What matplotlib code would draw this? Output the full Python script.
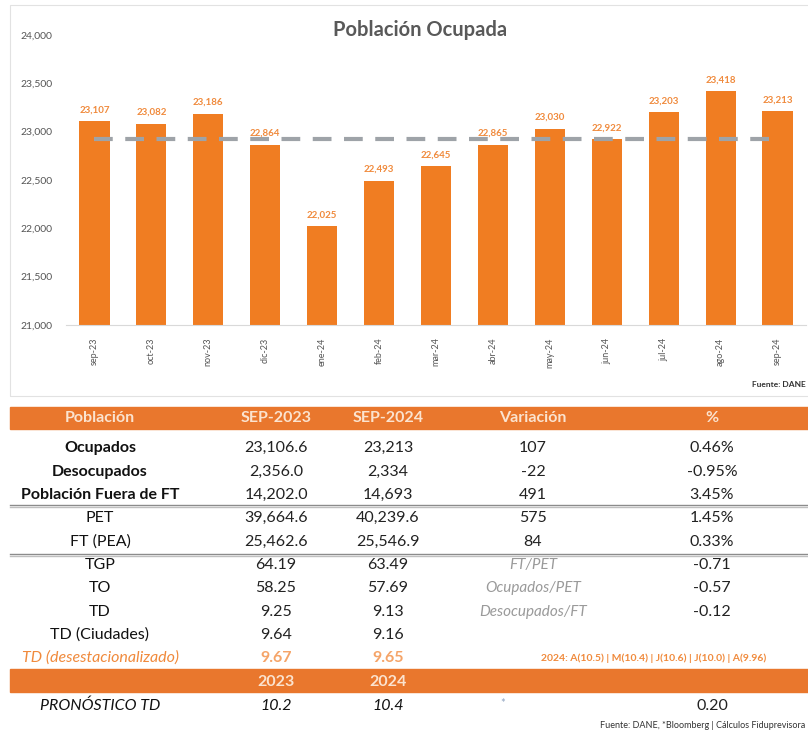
import matplotlib.pyplot as plt
import numpy as np
from matplotlib.patches import Rectangle
from matplotlib.lines import Line2D

plt.rcParams['font.family'] = ['Lato', 'DejaVu Sans']

months = ['sep-23', 'oct-23', 'nov-23', 'dic-23', 'ene-24', 'feb-24', 'mar-24',
          'abr-24', 'may-24', 'jun-24', 'jul-24', 'ago-24', 'sep-24']
ocupados = [23107, 23082, 23186, 22864, 22025, 22493, 22645,
            22865, 23030, 22922, 23203, 23418, 23213]
yticks = [21000, 21500, 22000, 22500, 23000, 23500, 24000]

header = ['Población', 'SEP-2023', 'SEP-2024', 'Variación', '%']
row_labels = ['Ocupados', 'Desocupados', 'Población Fuera de FT', 'PET', 'FT (PEA)',
              'TGP', 'TO', 'TD', 'TD (Ciudades)']
col_2023 = ['23,106.6', '2,356.0', '14,202.0', '39,664.6', '25,462.6',
            '64.19', '58.25', '9.25', '9.64']
col_2024 = ['23,213', '2,334', '14,693', '40,239.6', '25,546.9',
            '63.49', '57.69', '9.13', '9.16']
col_var = ['107', '-22', '491', '575', '84', 'FT/PET', 'Ocupados/PET', 'Desocupados/FT', '']
col_pct = ['0.46%', '-0.95%', '3.45%', '1.45%', '0.33%', '-0.71', '-0.57', '-0.12', '']
desest = ['TD (desestacionalizado)', '9.67', '9.65']
desest_note = '2024: A(10.5) | M(10.4) | J(10.6) | J(10.0) | A(9.96)'
forecast_years = ['2023', '2024']
forecast = ['PRONÓSTICO TD', '10.2', '10.4', '*', '0.20']

orange = '#F07D22'
band = '#E9772D'
W, H = 808, 737
fs = 11.5

fig = plt.figure(figsize=(W / 100, H / 100), dpi=100)


def fx(px):
    return px / W


def fy(py):
    return 1 - py / H


# chart frame
fig.patches.append(Rectangle((fx(10), fy(396)), fx(820), 391 / H, transform=fig.transFigure,
                             fill=False, edgecolor='#E2E2E2', linewidth=0.8))

ax = fig.add_axes([fx(66), fy(325), fx(740), 290 / H])
x = np.arange(len(months))
ax.bar(x, ocupados, width=0.53, color=orange, zorder=2)
ax.plot(x, [np.mean(ocupados)] * len(x), color='#9EA3A8', linewidth=3,
        dashes=(4.5, 3), zorder=3)
for xi, v in zip(x, ocupados):
    ax.text(xi, v + 70, f'{v:,}', ha='center', va='bottom', fontsize=7,
            color='#F08A3C', fontweight='bold')
ax.set_xlim(-0.5, len(months) - 0.5)
ax.set_ylim(21000, 24000)
ax.set_yticks(yticks)
ax.set_yticklabels([f'{t:,}' for t in yticks], fontsize=7.5, color='#555555')
ax.set_xticks(x)
ax.set_xticklabels(months, rotation=90, fontsize=6.5, color='#555555')
ax.tick_params(length=0, pad=9)
ax.tick_params(axis='y', pad=10)
for s in ['top', 'right', 'left']:
    ax.spines[s].set_visible(False)
ax.spines['bottom'].set_color('#D9D9D9')

fig.text(fx(420), fy(30), 'Población Ocupada', ha='center', va='center',
         fontsize=14.5, color='#595959', fontweight='bold')
fig.text(fx(806), fy(385), 'Fuente: DANE', ha='right', va='center', fontsize=6,
         fontweight='bold', color='#333333')

# table
cols = [100, 276, 388, 533, 712]
fig.patches.append(Rectangle((fx(10), fy(429)), fx(800), 22 / H, transform=fig.transFigure,
                             color=band, zorder=0))
for cx, t in zip(cols, header):
    fig.text(fx(cx), fy(418), t, ha='center', va='center', fontsize=fs,
             fontweight='bold', color='#FBE3CF')

row_y = [448, 472, 495, 518, 542, 565, 588, 612, 635]
for i, yy in enumerate(row_y):
    fw = 'bold' if i < 3 else 'normal'
    fig.text(fx(cols[0]), fy(yy), row_labels[i], ha='center', va='center',
             fontsize=fs, fontweight=fw, color='#111111')
    fig.text(fx(cols[1]), fy(yy), col_2023[i], ha='center', va='center',
             fontsize=fs, color='#222222')
    fig.text(fx(cols[2]), fy(yy), col_2024[i], ha='center', va='center',
             fontsize=fs, color='#222222')
    if i < 5:
        fig.text(fx(cols[3]), fy(yy), col_var[i], ha='center', va='center',
                 fontsize=fs, color='#222222')
    else:
        fig.text(fx(cols[3]), fy(yy), col_var[i], ha='center', va='center',
                 fontsize=fs - 0.5, color='#9A9A9A', style='italic')
    fig.text(fx(cols[4]), fy(yy), col_pct[i], ha='center', va='center',
             fontsize=fs, color='#222222')

for yy in [506, 555]:
    fig.add_artist(Line2D([fx(10), fx(808)], [fy(yy - 1), fy(yy - 1)],
                          color='#8C8C8C', linewidth=1.0))
    fig.add_artist(Line2D([fx(10), fx(808)], [fy(yy + 1), fy(yy + 1)],
                          color='#BFBFBF', linewidth=1.0))

fig.text(fx(cols[0]), fy(658), desest[0], ha='center', va='center', fontsize=fs,
         style='italic', color='#F08A3C')
fig.text(fx(cols[1]), fy(658), desest[1], ha='center', va='center', fontsize=fs,
         fontweight='bold', color='#F5A468')
fig.text(fx(cols[2]), fy(658), desest[2], ha='center', va='center', fontsize=fs,
         fontweight='bold', color='#F5A468')
fig.text(fx(654), fy(658), desest_note, ha='center', va='center', fontsize=7.5,
         fontweight='bold', color='#F08A3C')

fig.patches.append(Rectangle((fx(10), fy(692)), fx(800), 23 / H, transform=fig.transFigure,
                             color=band, zorder=0))
for cx, t in zip(cols[1:3], forecast_years):
    fig.text(fx(cx), fy(682), t, ha='center', va='center', fontsize=fs,
             fontweight='bold', color='#FBE3CF')

fig.text(fx(cols[0]), fy(706), forecast[0], ha='center', va='center', fontsize=fs,
         style='italic', color='#111111')
fig.text(fx(cols[1]), fy(706), forecast[1], ha='center', va='center', fontsize=fs,
         style='italic', color='#111111')
fig.text(fx(cols[2]), fy(706), forecast[2], ha='center', va='center', fontsize=fs,
         style='italic', color='#111111')
fig.text(fx(503), fy(703), forecast[3], ha='center', va='center', fontsize=8,
         color='#8FA3C0')
fig.text(fx(cols[4]), fy(706), forecast[4], ha='center', va='center', fontsize=fs,
         color='#222222')
fig.text(fx(805), fy(725), 'Fuente: DANE, *Bloomberg | Cálculos Fiduprevisora',
         ha='right', va='center', fontsize=6.5, color='#333333')

fig.savefig('out.png', dpi=100)
